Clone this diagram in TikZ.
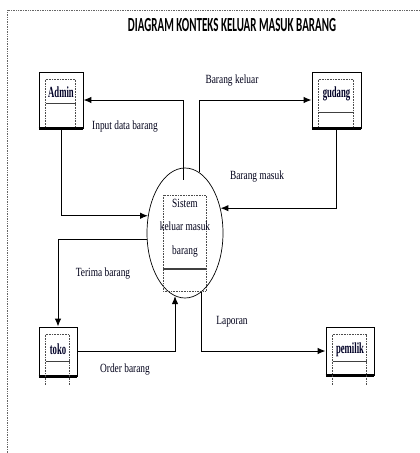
\documentclass[tikz,border=0pt]{standalone}
\usepackage{fontspec}
\setmainfont{Liberation Serif}
\newfontfamily\titlefont[FakeStretch=0.55]{Carlito}
\newfontfamily\labelfont[FakeStretch=0.75]{Liberation Serif}
\newfontfamily\boxfont[FakeStretch=0.56]{Liberation Serif}
\usepackage{tikz}
\usetikzlibrary{positioning}
\usetikzlibrary{calc}
\usetikzlibrary{arrows.meta}
\usetikzlibrary{shapes}

\tikzset{
entity/.style={draw, line width=0.9pt, inner sep=0pt},
proses/.style={draw, ellipse, line width=0.7pt, minimum width=76pt, minimum height=130pt, inner sep=0pt},
innerline/.style={densely dotted, line width=0.6pt, black!70},
wavy/.style={line width=1.4pt, dash pattern=on 0.5pt off 0.5pt, black!75},
flow/.style={-{Latex[length=8pt,width=6.5pt]}, line width=1pt},
lbl/.style={font=\labelfont\fontsize{12.5}{14}\selectfont, text=black!90!blue},
boxlbl/.style={font=\boxfont\bfseries\fontsize{15.5}{17}\selectfont, anchor=base, text=black!85!blue}
}

\begin{document}
\begin{tikzpicture}[x=1pt,y=-1pt]
\useasboundingbox (0,0) rectangle (420,453);
\draw[densely dotted, line width=0.7pt, black!60] (7,453) -- (7,10) -- (420,10);

\node (title) at (232,25) {\titlefont\bfseries\fontsize{20}{22}\selectfont DIAGRAM KONTEKS KELUAR MASUK BARANG};

% entitas luar
\node[entity, minimum width=44pt, minimum height=56pt] (admin) at (61,100) {};
\node[entity, minimum width=49pt, minimum height=56pt] (gudang) at (336.5,100) {};
\node[entity, minimum width=38pt, minimum height=49pt] (toko) at (58,351.5) {};
\node[entity, minimum width=48pt, minimum height=48pt] (pemilik) at (350,351) {};

\foreach \n/\w/\b in {admin/32/56, gudang/41/56, toko/35/58, pemilik/35/58}{
	\draw[line width=2.2pt] (\n.south west) -- (\n.south east);
	\draw[innerline] ($(\n.north west)+(7,8)$) -- ($(\n.north west)+(7,\b)$);
	\draw[innerline] ($(\n.north east)+(-8,8)$) -- ($(\n.north east)+(-8,\b)$);
	\draw[innerline] ($(\n.north west)+(7,8)$) -- ($(\n.north east)+(-8,8)$);
	\draw[wavy] ($(\n.north west)+(7,\w)$) -- ($(\n.north east)+(-8,\w)$);
}

\node[boxlbl] (admintext) at ($(admin.north)+(0,26)$) {Admin};
\node[boxlbl] (gudangtext) at ($(gudang.north)+(0,26)$) {gudang};
\node[boxlbl] (tokotext) at ($(toko.north)+(0,28)$) {toko};
\node[boxlbl] (pemiliktext) at ($(pemilik.north)+(0,27)$) {pemilik};

% proses
\node[proses] (sistem) at (185,233) {};
\draw[innerline] ($(sistem.center)+(-22,-38)$) rectangle ($(sistem.center)+(21,58)$);
\draw[wavy] ($(sistem.center)+(-22,36)$) -- ($(sistem.center)+(21,36)$);
\node[lbl, align=center, font=\labelfont\fontsize{12.5}{23.5}\selectfont] (sistemtext) at ($(sistem.center)+(0,-5)$) {Sistem\\keluar masuk\\barang};

% aliran data
\coordinate (topin) at ($(sistem.north)+(-2,12)$);
\draw[flow] (topin) |- (admin.east);
\draw[flow] (sistem.77) |- (gudang.west);
\draw[flow] (gudang.south) |- (sistem.35);
\draw[flow] (admin.south) |- (sistem.155);
\draw[flow] (sistem.190) -| (toko.north);
\draw[flow] (toko.east) -| (sistem.261);
\draw[flow] (sistem.286) |- (pemilik.west);

\node[lbl] (keluar) at (232,81) {Barang keluar};
\node[lbl] (input) at (125,127) {Input data barang};
\node[lbl] (masuk) at (257,177) {Barang masuk};
\node[lbl] (terima) at (103,274) {Terima barang};
\node[lbl] (laporan) at (232,322) {Laporan};
\node[lbl] (order) at (125,370) {Order barang};
\end{tikzpicture}
\end{document}
